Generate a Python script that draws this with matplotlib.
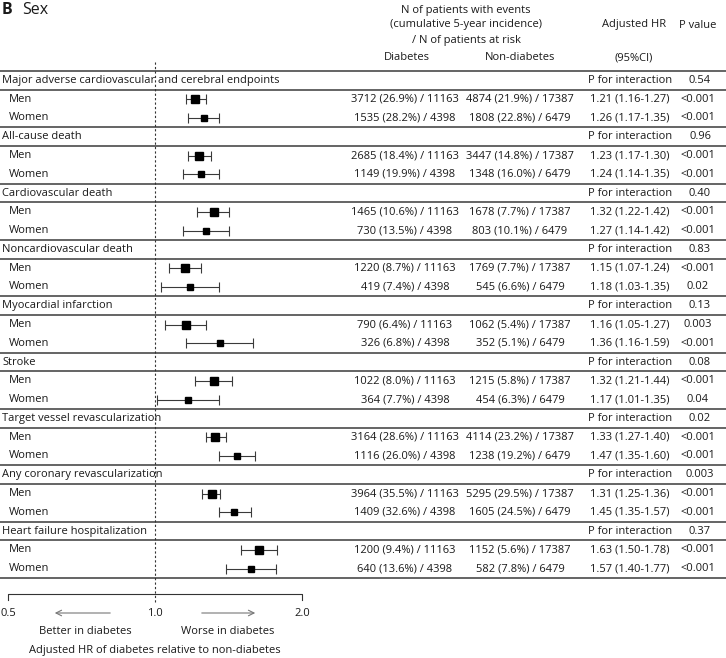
import matplotlib
matplotlib.use('Agg')
import matplotlib.pyplot as plt
from matplotlib.transforms import blended_transform_factory

plt.rcParams['font.family'] = ['Open Sans', 'DejaVu Sans']

# data
endpoints = ['Major adverse cardiovascular and cerebral endpoints', 'All-cause death',
             'Cardiovascular death', 'Noncardiovascular death', 'Myocardial infarction',
             'Stroke', 'Target vessel revascularization', 'Any coronary revascularization',
             'Heart failure hospitalization']
p_inter = ['0.54', '0.96', '0.40', '0.83', '0.13', '0.08', '0.02', '0.003', '0.37']

men_hr = [1.21, 1.23, 1.32, 1.15, 1.16, 1.32, 1.33, 1.31, 1.63]
men_lo = [1.16, 1.17, 1.22, 1.07, 1.05, 1.21, 1.27, 1.25, 1.50]
men_hi = [1.27, 1.30, 1.42, 1.24, 1.27, 1.44, 1.40, 1.36, 1.78]
women_hr = [1.26, 1.24, 1.27, 1.18, 1.36, 1.17, 1.47, 1.45, 1.57]
women_lo = [1.17, 1.14, 1.14, 1.03, 1.16, 1.01, 1.35, 1.35, 1.40]
women_hi = [1.35, 1.35, 1.42, 1.35, 1.59, 1.35, 1.60, 1.57, 1.77]
men_p = ['<0.001', '<0.001', '<0.001', '<0.001', '0.003', '<0.001', '<0.001', '<0.001', '<0.001']
women_p = ['<0.001', '<0.001', '<0.001', '0.02', '<0.001', '0.04', '<0.001', '<0.001', '<0.001']

men_dm = ['3712 (26.9%)', '2685 (18.4%)', '1465 (10.6%)', '1220 (8.7%)', '790 (6.4%)',
          '1022 (8.0%)', '3164 (28.6%)', '3964 (35.5%)', '1200 (9.4%)']
men_nondm = ['4874 (21.9%)', '3447 (14.8%)', '1678 (7.7%)', '1769 (7.7%)', '1062 (5.4%)',
             '1215 (5.8%)', '4114 (23.2%)', '5295 (29.5%)', '1152 (5.6%)']
women_dm = ['1535 (28.2%)', '1149 (19.9%)', '730 (13.5%)', '419 (7.4%)', '326 (6.8%)',
            '364 (7.7%)', '1116 (26.0%)', '1409 (32.6%)', '640 (13.6%)']
women_nondm = ['1808 (22.8%)', '1348 (16.0%)', '803 (10.1%)', '545 (6.6%)', '352 (5.1%)',
               '454 (6.3%)', '1238 (19.2%)', '1605 (24.5%)', '582 (7.8%)']
n_men_dm, n_men_nondm = 11163, 17387
n_women_dm, n_women_nondm = 4398, 6479

W, H = 726, 658
fig = plt.figure(figsize=(W / 100, H / 100), dpi=100)
ax = fig.add_axes([0, 0, 1, 1])
ax.set_xscale('log', base=2)
# 1.0 at x=155 px, 147 px per doubling
ax.set_xlim(2 ** (-155 / 147), 2 ** ((W - 155) / 147))
ax.set_ylim(H, 0)
ax.axis('off')
tr = blended_transform_factory(ax.transAxes, ax.transData)

fs = 8
txt = '#1a1a1a'
line_c = '#4a4a4a'

def t(px, y, s, ha='center', **kw):
    ax.text(px / W, y, s, transform=tr, ha=ha, va='center', fontsize=kw.pop('fontsize', fs),
            color=kw.pop('color', txt), **kw)

# title and header
t(2, 10, 'B', ha='left', fontsize=11.5, fontweight='bold')
t(22, 10, 'Sex', ha='left', fontsize=11.5)
t(466, 10, 'N of patients with events')
t(466, 25, '(cumulative 5-year incidence)')
t(466, 40, '/ N of patients at risk')
t(634, 25, 'Adjusted HR')
t(698, 25, 'P value')
t(407, 58, 'Diabetes')
t(520, 58, 'Non-diabetes')
t(634, 58, '(95%CI)')

top = 71
gh = (578 - top) / 9
rh = gh / 3

for g, name in enumerate(endpoints):
    y0 = top + g * gh
    ax.axhline(y0, color=line_c, lw=1.2)
    ax.axhline(y0 + rh, color=line_c, lw=1.2)
    yh = y0 + rh / 2
    t(2, yh, name, ha='left')
    t(630, yh, 'P for interaction')
    t(700, yh, p_inter[g])

    ym = y0 + 1.5 * rh
    yw = y0 + 2.5 * rh
    t(9, ym, 'Men', ha='left')
    t(9, yw, 'Women', ha='left')
    t(405, ym, f'{men_dm[g]} / {n_men_dm}')
    t(405, yw, f'{women_dm[g]} / {n_women_dm}')
    t(520, ym, f'{men_nondm[g]} / {n_men_nondm}')
    t(520, yw, f'{women_nondm[g]} / {n_women_nondm}')
    t(630, ym, f'{men_hr[g]:.2f} ({men_lo[g]:.2f}-{men_hi[g]:.2f})')
    t(630, yw, f'{women_hr[g]:.2f} ({women_lo[g]:.2f}-{women_hi[g]:.2f})')
    t(698, ym, men_p[g])
    t(698, yw, women_p[g])

    ax.errorbar(men_hr[g], ym, xerr=[[men_hr[g] - men_lo[g]], [men_hi[g] - men_hr[g]]],
                fmt='s', color='black', ecolor='#3a3a3a', elinewidth=0.8, capsize=3.6,
                capthick=0.8, markersize=5.8, zorder=3)
    ax.errorbar(women_hr[g], yw, xerr=[[women_hr[g] - women_lo[g]], [women_hi[g] - women_hr[g]]],
                fmt='s', color='black', ecolor='#3a3a3a', elinewidth=0.8, capsize=3.6,
                capthick=0.8, markersize=3.8, zorder=3)

ax.axhline(top + 9 * gh, color=line_c, lw=1.2)

# reference line at HR = 1
ax.plot([1, 1], [62, 602], color='#333333', lw=0.8, ls=(0, (2, 2)))

# bottom axis
ax.plot([0.5, 0.5, 2.0, 2.0], [600, 594, 594, 600], color='#333333', lw=0.8)
for v in [0.5, 1.0, 2.0]:
    ax.text(v, 613, f'{v:.1f}', ha='center', va='center', fontsize=fs, color=txt)
ax.annotate('', xy=(52 / W, 613), xytext=(113 / W, 613), xycoords=tr, textcoords=tr,
            arrowprops=dict(arrowstyle='->', color='#777777', lw=0.8))
ax.annotate('', xy=(258 / W, 613), xytext=(199 / W, 613), xycoords=tr, textcoords=tr,
            arrowprops=dict(arrowstyle='->', color='#777777', lw=0.8))
t(85, 632, 'Better in diabetes')
t(228, 632, 'Worse in diabetes')
t(155, 650, 'Adjusted HR of diabetes relative to non-diabetes')

fig.savefig('out.png', dpi=100)
